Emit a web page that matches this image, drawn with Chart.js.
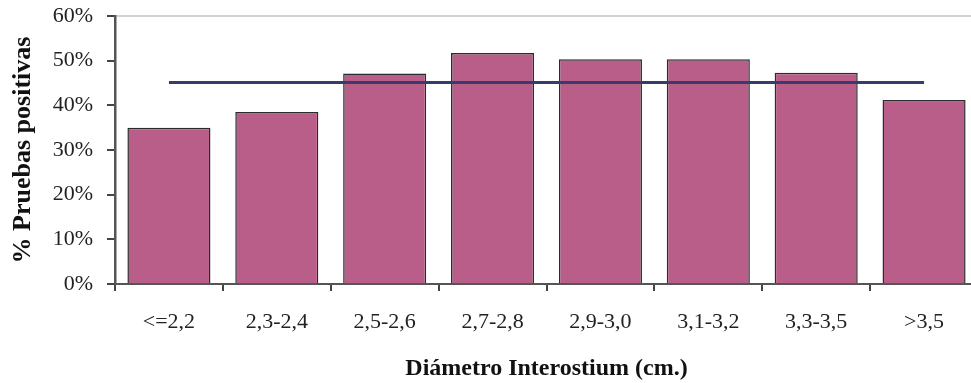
<!DOCTYPE html>
<html>
<head>
<meta charset="utf-8">
<script src="https://cdn.jsdelivr.net/npm/chart.js@4/dist/chart.umd.min.js"></script>
<style>
  html, body { margin: 0; padding: 0; background: #ffffff; overflow: hidden; }
  #wrap { width: 980px; height: 383px; }
</style>
</head>
<body>
<div id="wrap"><canvas id="c" width="980" height="383"></canvas></div>
<script>
// Diameter classes (cm) and share of positive tests (%)
const categories = ['<=2,2', '2,3-2,4', '2,5-2,6', '2,7-2,8', '2,9-3,0', '3,1-3,2', '3,3-3,5', '>3,5'];
const positivas = [35.0, 38.5, 47.1, 51.7, 50.3, 50.3, 47.3, 41.2];
// Overall average across all classes
const promedio = [45.1, 45.1, 45.1, 45.1, 45.1, 45.1, 45.1, 45.1];
const yTicks = [0, 10, 20, 30, 40, 50, 60];

const serif = "'Liberation Serif', 'Times New Roman', serif";

new Chart(document.getElementById('c'), {
  type: 'bar',
  data: {
    labels: categories,
    datasets: [
      {
        type: 'line',
        data: promedio,
        borderColor: '#373c6c',
        borderWidth: 3,
        pointRadius: 0,
        fill: false,
        order: 0
      },
      {
        type: 'bar',
        data: positivas,
        backgroundColor: '#b95e88',
        borderColor: '#2b2b2b',
        borderWidth: 1.5,
        barPercentage: 0.77,
        categoryPercentage: 1.0,
        order: 1
      }
    ]
  },
  options: {
    responsive: false,
    animation: false,
    layout: { padding: { top: 16, left: 0, right: 2, bottom: 0 } },
    plugins: { legend: { display: false }, tooltip: { enabled: false } },
    scales: {
      x: {
        grid: {
          offset: true,
          color: 'rgba(0,0,0,0)',
          tickColor: '#444444',
          tickLength: 7,
          lineWidth: 2
        },
        border: { display: true, color: '#555555', width: 2 },
        ticks: {
          color: '#222222',
          padding: 18,
          font: { family: serif, size: 22 },
          maxRotation: 0
        },
        title: {
          display: true,
          text: 'Diámetro Interostium (cm.)',
          color: '#111111',
          font: { family: serif, size: 24, weight: 'bold' },
          padding: { top: 8, bottom: 0 }
        },
        afterFit: (s) => { s.height = 99; s.paddingLeft = 0; s.paddingRight = 0; }
      },
      y: {
        min: 0,
        max: 60,
        afterBuildTicks: (s) => { s.ticks = yTicks.map(v => ({ value: v })); },
        grid: {
          color: (ctx) => (ctx.tick && ctx.tick.value === 60 ? '#d2d2d2' : 'rgba(0,0,0,0)'),
          tickColor: '#444444',
          tickLength: 8,
          lineWidth: 2
        },
        border: { display: true, color: '#555555', width: 2.5 },
        ticks: {
          color: '#222222',
          padding: 14,
          font: { family: serif, size: 22 },
          callback: (v) => v + '%'
        },
        title: {
          display: true,
          text: '% Pruebas positivas',
          color: '#111111',
          font: { family: serif, size: 26, weight: 'bold' },
          padding: { top: 8, bottom: 0 }
        },
        afterFit: (s) => { s.width = 115; s.paddingTop = 0; s.paddingBottom = 0; }
      }
    }
  }
});
</script>
</body>
</html>
